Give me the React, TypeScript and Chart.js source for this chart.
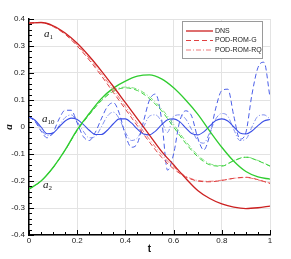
import { useEffect, useRef } from "react";
import { Chart, registerables } from "chart.js";
Chart.register(...registerables);

// time samples
const tCoarse = [0, 0.05, 0.1, 0.15, 0.2, 0.25, 0.3, 0.35, 0.4, 0.45, 0.5, 0.55, 0.6, 0.65, 0.7, 0.75, 0.8, 0.85, 0.9, 0.95, 1];
const tFine = [0, 0.025, 0.05, 0.075, 0.1, 0.125, 0.15, 0.175, 0.2, 0.225, 0.25, 0.275, 0.3, 0.325, 0.35, 0.375, 0.4, 0.425, 0.45, 0.475, 0.5, 0.525, 0.55, 0.575, 0.6, 0.625, 0.65, 0.675, 0.7, 0.725, 0.75, 0.775, 0.8, 0.825, 0.85, 0.875, 0.9, 0.925, 0.95, 0.975, 1];

// a1
const a1DNS = [0.385, 0.387, 0.375, 0.348, 0.31, 0.262, 0.208, 0.15, 0.09, 0.03, -0.03, -0.09, -0.14, -0.19, -0.235, -0.265, -0.285, -0.297, -0.302, -0.299, -0.293];
const a1G = [0.385, 0.387, 0.372, 0.343, 0.3, 0.248, 0.19, 0.128, 0.066, 0.004, -0.056, -0.112, -0.155, -0.185, -0.2, -0.203, -0.198, -0.19, -0.186, -0.195, -0.209];
const a1RQ = [0.385, 0.387, 0.373, 0.345, 0.304, 0.254, 0.198, 0.138, 0.076, 0.014, -0.046, -0.102, -0.148, -0.182, -0.198, -0.201, -0.197, -0.19, -0.187, -0.196, -0.208];

// a2
const a2DNS = [-0.23, -0.2, -0.15, -0.085, -0.01, 0.05, 0.105, 0.144, 0.17, 0.188, 0.193, 0.178, 0.145, 0.1, 0.048, -0.015, -0.075, -0.127, -0.165, -0.185, -0.193];
const a2G = [-0.23, -0.2, -0.15, -0.086, -0.013, 0.045, 0.097, 0.132, 0.145, 0.135, 0.105, 0.06, 0.0, -0.06, -0.11, -0.14, -0.145, -0.125, -0.112, -0.125, -0.145];
const a2RQ = [-0.23, -0.2, -0.15, -0.086, -0.012, 0.047, 0.1, 0.136, 0.148, 0.14, 0.112, 0.068, 0.01, -0.052, -0.104, -0.136, -0.143, -0.124, -0.111, -0.124, -0.144];

// a10
const a10DNS = [0.038, 0.025, 0.0, -0.025, -0.022, 0.0, 0.022, 0.033, 0.028, 0.01, -0.012, -0.028, -0.028, -0.012, 0.012, 0.03, 0.03, 0.015, -0.008, -0.026, -0.029, -0.015, 0.008, 0.027, 0.03, 0.02, -0.003, -0.024, -0.029, -0.018, 0.004, 0.024, 0.03, 0.022, 0.0, -0.022, -0.026, -0.015, 0.005, 0.022, 0.028];
const a10G = [0.038, 0.02, -0.015, -0.04, -0.02, 0.03, 0.062, 0.062, 0.015, -0.035, -0.05, -0.02, 0.03, 0.075, 0.09, 0.05, -0.03, -0.075, -0.06, 0.02, 0.1, 0.122, 0.03, -0.16, -0.1, 0.02, 0.06, 0.04, -0.04, -0.085, -0.03, 0.07, 0.135, 0.14, 0.04, -0.045, -0.02, 0.12, 0.22, 0.24, 0.11];
const a10RQ = [0.038, 0.022, -0.008, -0.032, -0.025, 0.005, 0.035, 0.045, 0.02, -0.015, -0.04, -0.035, 0.0, 0.04, 0.055, 0.03, -0.02, -0.05, -0.04, 0.0, 0.04, 0.045, 0.02, -0.02, 0.04, 0.045, 0.03, -0.01, -0.05, -0.06, -0.02, 0.03, 0.05, 0.04, -0.01, -0.05, -0.045, 0.0, 0.04, 0.045, 0.03];

const legendLabels = ["DNS", "POD-ROM-G", "POD-ROM-RQ"];

const pts = (ts: number[], vs: number[]) => ts.map((t, i) => ({ x: t, y: vs[i] }));

const RED = "#cc2020";
const RED_G = "#e04040";
const RED_RQ = "#ee7a7a";
const GREEN = "#2fcc2f";
const GREEN_G = "#3cd23c";
const GREEN_RQ = "#7ee07e";
const BLUE = "#3a4ee6";
const BLUE_G = "#4a5ee8";
const BLUE_RQ = "#8090ee";

const DASH = [5, 3];
const DASHDOT = [5, 2, 1, 2];

const innerTicks = {
  id: "innerTicks",
  afterDatasetsDraw(chart: any) {
    const { ctx, chartArea } = chart;
    const xs = chart.scales.x;
    const ys = chart.scales.y;
    ctx.save();
    ctx.strokeStyle = "#000";
    ctx.lineWidth = 1;
    for (let i = 0; i <= 20; i++) {
      const v = i * 0.05;
      const px = Math.round(xs.getPixelForValue(v)) + 0.5;
      const len = i % 4 === 0 ? 5 : 3;
      ctx.beginPath();
      ctx.moveTo(px, chartArea.bottom);
      ctx.lineTo(px, chartArea.bottom - len);
      ctx.stroke();
    }
    for (let i = 0; i <= 40; i++) {
      const v = -0.4 + i * 0.02;
      const py = Math.round(ys.getPixelForValue(v)) + 0.5;
      const len = i % 5 === 0 ? 5 : 3;
      ctx.beginPath();
      ctx.moveTo(chartArea.left, py);
      ctx.lineTo(chartArea.left + len, py);
      ctx.stroke();
    }
    ctx.restore();
  },
};

const boxLegend = {
  id: "boxLegend",
  afterDraw(chart: any) {
    const { ctx } = chart;
    const ds = chart.data.datasets;
    const x0 = 182.5, y0 = 21.5, w = 80, h = 37;
    ctx.save();
    ctx.fillStyle = "#fff";
    ctx.fillRect(x0, y0, w, h);
    ctx.strokeStyle = "#9a9a9a";
    ctx.lineWidth = 1;
    ctx.strokeRect(x0, y0, w, h);
    ctx.font = "7px 'Liberation Sans', Arial, sans-serif";
    ctx.textBaseline = "middle";
    for (let i = 0; i < 3; i++) {
      const y = 31 + i * 9.5;
      ctx.strokeStyle = ds[i].borderColor;
      ctx.lineWidth = ds[i].borderWidth;
      ctx.setLineDash(ds[i].borderDash || []);
      ctx.beginPath();
      ctx.moveTo(186, y);
      ctx.lineTo(213, y);
      ctx.stroke();
      ctx.setLineDash([]);
      ctx.fillStyle = "#222";
      ctx.fillText(legendLabels[i], 215, y);
    }
    ctx.restore();
  },
};

export default function App() {
  const ref = useRef<HTMLCanvasElement>(null);
  useEffect(() => {
    const line = (label: string, ts: number[], vs: number[], color: string, width: number, dash: number[]) => ({
      label,
      data: pts(ts, vs),
      borderColor: color,
      backgroundColor: color,
      borderWidth: width,
      borderDash: dash,
      pointRadius: 0,
      fill: false,
      cubicInterpolationMode: "monotone" as const,
    });
    const chart = new Chart(ref.current!, {
      type: "line",
      data: {
        datasets: [
          line(legendLabels[0], tCoarse, a1DNS, RED, 1.3, []),
          line(legendLabels[1], tCoarse, a1G, RED_G, 1, DASH),
          line(legendLabels[2], tCoarse, a1RQ, RED_RQ, 1, DASHDOT),
          line("a2 DNS", tCoarse, a2DNS, GREEN, 1.3, []),
          line("a2 G", tCoarse, a2G, GREEN_G, 1, DASH),
          line("a2 RQ", tCoarse, a2RQ, GREEN_RQ, 1, DASHDOT),
          line("a10 DNS", tFine, a10DNS, BLUE, 1.1, []),
          line("a10 G", tFine, a10G, BLUE_G, 1, DASH),
          line("a10 RQ", tFine, a10RQ, BLUE_RQ, 1, DASHDOT),
        ],
      },
      options: {
        responsive: false,
        animation: false,
        devicePixelRatio: 1,
        layout: { padding: { top: 19, right: 21, left: 0, bottom: 0 } },
        plugins: { legend: { display: false }, tooltip: { enabled: false } },
        scales: {
          x: {
            type: "linear",
            min: 0,
            max: 1,
            afterFit: (s: any) => {
              s.height = 24;
            },
            ticks: {
              stepSize: 0.2,
              padding: 1,
              color: "#222",
              font: { size: 8, family: "'Liberation Sans', Arial, sans-serif" },
              callback: (v: any) => {
                const r = Math.round(Number(v) * 10) / 10;
                return r === 0 ? "0" : r === 1 ? "1" : r.toFixed(1);
              },
            },
            grid: { color: "#e3e3e3", drawTicks: false },
            border: { color: "#000", width: 1.5 },
            title: {
              display: true,
              text: "t",
              color: "#111",
              padding: { top: 0, bottom: 4 },
              font: { size: 10, weight: "bold", family: "'Liberation Sans', Arial, sans-serif" },
            },
          },
          y: {
            type: "linear",
            min: -0.4,
            max: 0.4,
            afterFit: (s: any) => {
              s.width = 29;
            },
            ticks: {
              stepSize: 0.1,
              padding: 4,
              color: "#222",
              font: { size: 8, family: "'Liberation Sans', Arial, sans-serif" },
              callback: (v: any) => {
                const r = Math.round(Number(v) * 10) / 10;
                return r === 0 ? "0" : r.toFixed(1);
              },
            },
            grid: { color: "#e3e3e3", drawTicks: false },
            border: { color: "#000", width: 1.5 },
            title: {
              display: true,
              text: "a",
              color: "#111",
              padding: { top: 3, bottom: 0 },
              font: { size: 11, weight: "bold", style: "italic", family: "'Liberation Serif', 'Times New Roman', serif" },
            },
          },
        },
      },
      plugins: [innerTicks, boxLegend],
    });
    return () => chart.destroy();
  }, []);

  const lbl = (x: number, y: number, sub: string) => (
    <div
      style={{
        position: "absolute",
        left: x,
        top: y,
        fontFamily: "'Liberation Serif', 'Times New Roman', serif",
        fontStyle: "italic",
        fontSize: 11,
        lineHeight: "11px",
        color: "#111",
        whiteSpace: "nowrap",
      }}
    >
      a<span style={{ fontSize: 7, fontStyle: "normal", verticalAlign: "-2px" }}>{sub}</span>
    </div>
  );

  return (
    <div style={{ position: "fixed", left: 0, top: 0, width: 291, height: 259, background: "#fff" }}>
      <canvas ref={ref} width={291} height={259} style={{ display: "block" }} />
      {lbl(44, 28, "1")}
      {lbl(42, 113, "10")}
      {lbl(43, 179, "2")}
    </div>
  );
}
